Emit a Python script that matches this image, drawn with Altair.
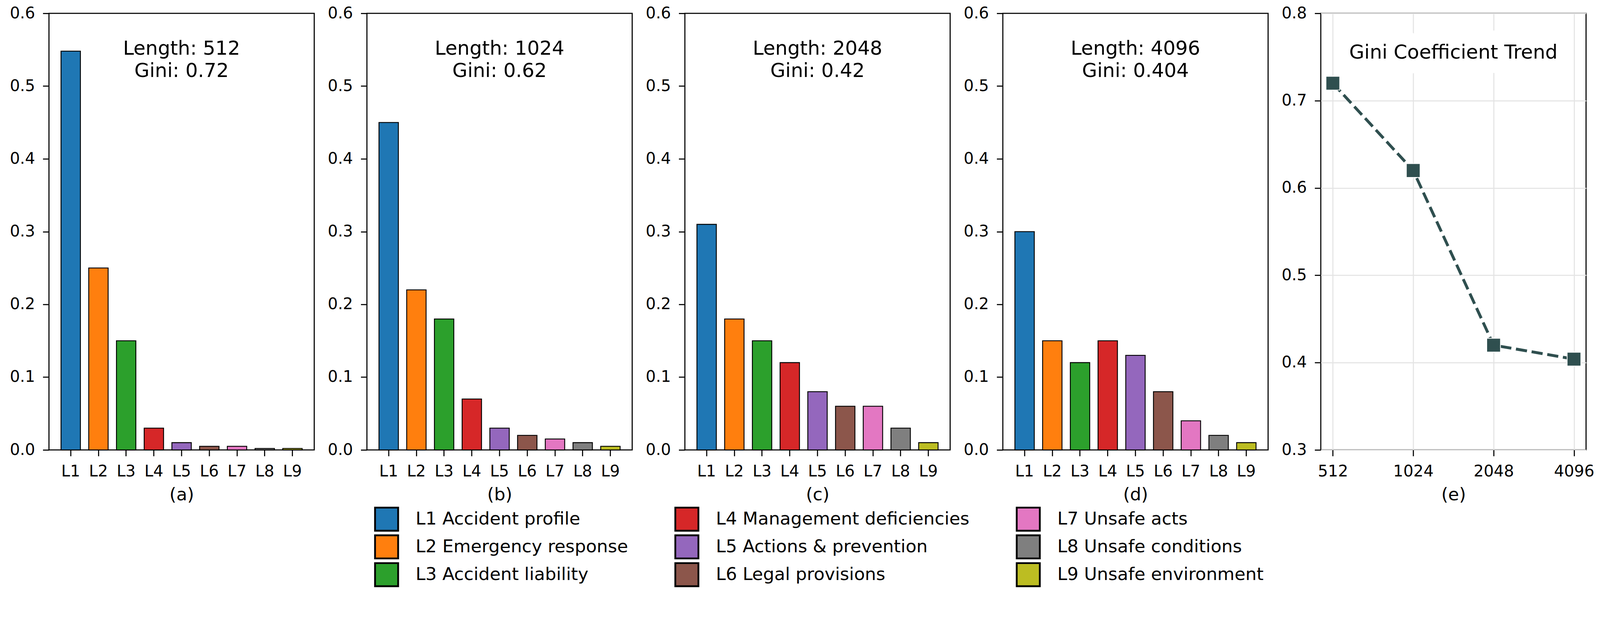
import altair as alt
import pandas as pd

# ---- data ----
levels = ["L1", "L2", "L3", "L4", "L5", "L6", "L7", "L8", "L9"]
level_names = ["Accident profile", "Emergency response", "Accident liability",
               "Management deficiencies", "Actions & prevention", "Legal provisions",
               "Unsafe acts", "Unsafe conditions", "Unsafe environment"]
colors = ["#1f77b4", "#ff7f0e", "#2ca02c", "#d62728", "#9467bd",
          "#8c564b", "#e377c2", "#7f7f7f", "#bcbd22"]
lengths = [512, 1024, 2048, 4096]
gini = [0.72, 0.62, 0.42, 0.404]
dist_512 = [0.548, 0.25, 0.15, 0.03, 0.01, 0.005, 0.005, 0.002, 0.002]
dist_1024 = [0.45, 0.22, 0.18, 0.07, 0.03, 0.02, 0.015, 0.01, 0.005]
dist_2048 = [0.31, 0.18, 0.15, 0.12, 0.08, 0.06, 0.06, 0.03, 0.01]
dist_4096 = [0.30, 0.15, 0.12, 0.15, 0.13, 0.08, 0.04, 0.02, 0.01]
panel_tags = ["(a)", "(b)", "(c)", "(d)", "(e)"]
bar_ticks = [0.0, 0.1, 0.2, 0.3, 0.4, 0.5, 0.6]
gini_ticks = [0.3, 0.4, 0.5, 0.6, 0.7, 0.8]
trend_title = "Gini Coefficient Trend"

FONT = "DejaVu Sans"
W, H = 735, 1209

legend_labels = [f"{l} {n}" for l, n in zip(levels, level_names)]

legend = alt.Legend(
    title=None, orient="none", legendX=901, legendY=1366,
    columns=3, direction="vertical",
    symbolType="square", symbolSize=4096, symbolStrokeColor="black",
    symbolStrokeWidth=5, labelFont=FONT, labelFontSize=49, labelColor="black",
    labelOffset=46, labelLimit=2000, rowPadding=-10, columnPadding=120, padding=0,
)


def bar_panel(values, length, g, tag):
    df = pd.DataFrame({"level": levels, "value": values, "name": legend_labels})
    bars = alt.Chart(df).mark_bar(stroke="black", strokeWidth=2.5).encode(
        x=alt.X("level:N", sort=levels,
                scale=alt.Scale(paddingInner=0.3, paddingOuter=0.435),
                axis=alt.Axis(title=tag, labelAngle=0, labelPadding=21,
                              titlePadding=18, grid=False)),
        y=alt.Y("value:Q", scale=alt.Scale(domain=[0, 0.6], nice=False),
                axis=alt.Axis(values=bar_ticks, format=".1f", title=None,
                              labelPadding=22, grid=False)),
        color=alt.Color("name:N",
                        scale=alt.Scale(domain=legend_labels, range=colors),
                        legend=legend),
    )
    txt = alt.Chart(pd.DataFrame({"k": [0]})).mark_text(
        text=[f"Length: {length}", f"Gini: {g}"], font=FONT, fontSize=54,
        align="center", baseline="alphabetic", lineHeight=62, color="black",
    ).encode(x=alt.value(W / 2), y=alt.value(114.5))
    return alt.layer(bars, txt).properties(width=W, height=H)


panels = [bar_panel(d, L, g, t) for d, L, g, t in
          zip([dist_512, dist_1024, dist_2048, dist_4096], lengths, gini, panel_tags[:4])]

df_e = pd.DataFrame({"length": [str(v) for v in lengths], "gini": gini})
xe = alt.X("length:O", sort=[str(v) for v in lengths],
           scale=alt.Scale(type="point", padding=0.15),
           axis=alt.Axis(title=panel_tags[4], labelAngle=0, labelPadding=21,
                         titlePadding=18, grid=True, gridColor="#e4e4e4",
                         gridWidth=3))
ye = alt.Y("gini:Q", scale=alt.Scale(domain=[0.3, 0.8], nice=False),
           axis=alt.Axis(values=gini_ticks, format=".1f", title=None,
                         labelPadding=22, grid=True, gridColor="#e4e4e4",
                         gridWidth=3))
line = alt.Chart(df_e).mark_line(color="#2f4f4f", strokeWidth=8,
                                 strokeDash=[31, 13]).encode(x=xe, y=ye)
pts = alt.Chart(df_e).mark_point(shape="square", filled=True, size=1444,
                                 color="#2f4f4f", opacity=1, stroke="white",
                                 strokeWidth=2).encode(x=xe, y=ye)
base_t = alt.Chart(pd.DataFrame({"k": [0]}))
halo = base_t.mark_text(text=trend_title, font=FONT, fontSize=54, align="center",
                        baseline="alphabetic", stroke="white", strokeWidth=80,
                        strokeJoin="round", color="white").encode(
    x=alt.value(W / 2), y=alt.value(125))
title_t = base_t.mark_text(text=trend_title, font=FONT, fontSize=54, align="center",
                           baseline="alphabetic", color="black").encode(
    x=alt.value(W / 2), y=alt.value(125))
panel_e = alt.layer(halo, title_t, line, pts).properties(width=W, height=H)

chart = alt.hconcat(*panels, panel_e, spacing=146, bounds="flush").resolve_scale(
    color="shared", x="independent", y="independent"
).properties(
    padding={"left": 16, "top": -60, "right": 5, "bottom": 0}
).configure_view(
    stroke="black", strokeWidth=3
).configure_axis(
    domain=False, tickColor="black", tickWidth=3, tickSize=17,
    labelFont=FONT, labelFontSize=44, labelColor="black",
    titleFont=FONT, titleFontSize=49, titleFontWeight="normal", titleColor="black",
)

chart.save("out.html", embed_options={"renderer": "svg", "actions": False})
